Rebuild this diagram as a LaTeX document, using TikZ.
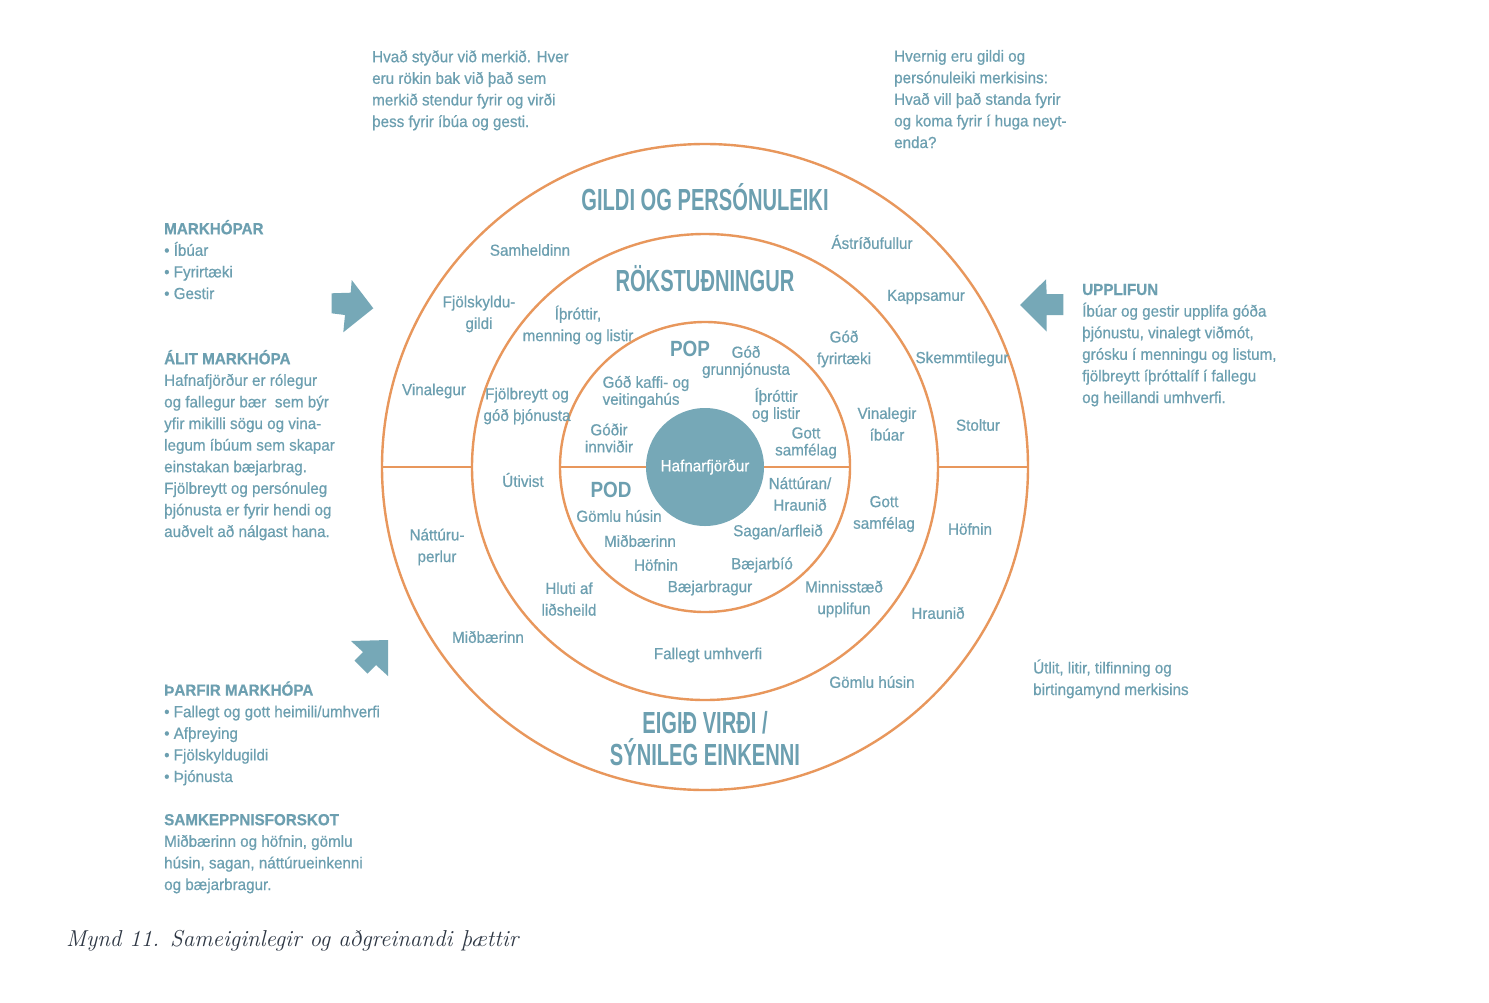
\documentclass[tikz,border=0pt]{standalone}
\usepackage{fontspec}
\newfontfamily\bodyf[FakeStretch=0.95,FakeBold=0.6]{Liberation Sans}
\newfontfamily\headf[FakeStretch=0.66]{Liberation Sans}
\newfontfamily\popf[FakeStretch=0.86]{Liberation Sans}
\definecolor{tealtx}{HTML}{6C9FB0}
\definecolor{tealfill}{HTML}{76A8B7}
\definecolor{orng}{HTML}{E8975C}
\definecolor{capc}{HTML}{2E3744}
\begin{document}
\begin{tikzpicture}[x=1pt,y=-1pt,
  txt/.style={text=tealtx, font=\bodyf\fontsize{16}{21.6}\selectfont, inner sep=0, align=center},
  tight/.style={font=\bodyf\fontsize{16}{17}\selectfont},
  blk/.style={txt, align=left, anchor=base west},
  hdg/.style={text=tealtx, font=\headf\bfseries\fontsize{30.5}{32}\selectfont, inner sep=0, align=center},
  pp/.style={text=tealtx, font=\popf\bfseries\fontsize{22}{24}\selectfont, inner sep=0},
  ring/.style={circle, draw=orng, line width=2.4pt, inner sep=0, outer sep=0},
  sepline/.style={draw=orng, line width=2.4pt},
  arr/.style={fill=tealfill, draw=none}
]
\useasboundingbox[fill=white] (0,0) rectangle (1489,1002);

% rings
\node[ring, minimum size=646] (outer) at (705,467) {};
\node[ring, minimum size=466] (mid) at (705,467) {};
\node[ring, minimum size=290] (inner) at (705,467) {};
\node[circle, fill=tealfill, inner sep=0, outer sep=0, minimum size=118,
      text=white, font=\bodyf\fontsize{16}{18}\selectfont] (core) at (705,467) {Hafnarfjörður};

\draw[sepline] (outer.west) -- (mid.west);
\draw[sepline] (inner.west) -- (core.west);
\draw[sepline] (core.east) -- (inner.east);
\draw[sepline] (mid.east) -- (outer.east);

% arrows
\fill[arr] (331.7,293.3) -- (350.7,292.7) -- (351.7,280) -- (373.3,308.3) -- (343.3,332.3) -- (345,315) -- (331.7,313.3) -- cycle;
\fill[arr] (1020,305) -- (1046,279.3) -- (1046.7,294) -- (1063.3,294) -- (1063.3,315) -- (1046.7,315) -- (1046.7,331.7) -- cycle;
\fill[arr] (351,641) -- (388,640) -- (388,676) -- (376,665) -- (367.5,673.5) -- (354.5,660.5) -- (363,652) -- cycle;

% side text blocks (base anchor = baseline of last line)
\node[blk] (tl) at (372,127) {Hvað styður við merkið. Hver\\eru rökin bak við það sem\\merkið stendur fyrir og virði\\þess fyrir íbúa og gesti.};
\node[blk] (tr) at (894,148) {Hvernig eru gildi og\\persónuleiki merkisins:\\Hvað vill það standa fyrir\\og koma fyrir í huga neyt-\\enda?};
\node[blk] (l1) at (164,299) {\textbf{MARKHÓPAR}\\• Íbúar\\• Fyrirtæki\\• Gestir};
\node[blk] (l2) at (164,537) {\textbf{ÁLIT MARKHÓPA}\\Hafnafjörður er rólegur\\og fallegur bær\ \ sem býr\\yfir mikilli sögu og vina-\\legum íbúum sem skapar\\einstakan bæjarbrag.\\Fjölbreytt og persónuleg\\þjónusta er fyrir hendi og\\auðvelt að nálgast hana.};
\node[blk] (l3) at (164,782) {\textbf{ÞARFIR MARKHÓPA}\\• Fallegt og gott heimili/umhverfi\\• Afþreying\\• Fjölskyldugildi\\• Þjónusta};
\node[blk] (l4) at (164,890) {\textbf{SAMKEPPNISFORSKOT}\\Miðbærinn og höfnin, gömlu\\húsin, sagan, náttúrueinkenni\\og bæjarbragur.};
\node[blk] (r1) at (1082,403) {\textbf{UPPLIFUN}\\Íbúar og gestir upplifa góða\\þjónustu, vinalegt viðmót,\\grósku í menningu og listum,\\fjölbreytt íþróttalíf í fallegu\\og heillandi umhverfi.};
\node[blk] (r2) at (1033,695) {Útlit, litir, tilfinning og\\birtingamynd merkisins};

% outer ring
\node[hdg] (h1) at (705,197) {GILDI OG PERSÓNULEIKI};
\node[txt] (o1) at (530,250) {Samheldinn};
\node[txt] (o2) at (872,242) {Ástríðufullur};
\node[txt] (o3) at (479,314) {Fjölskyldu-\\gildi};
\node[txt] (o4) at (926,297) {Kappsamur};
\node[txt] (o5) at (434,391) {Vinalegur};
\node[txt] (o6) at (962,359) {Skemmtilegur};
\node[txt] (o7) at (978,425) {Stoltur};
\node[txt] (o8) at (970,529) {Höfnin};
\node[txt] (o9) at (437,547) {Náttúru-\\perlur};
\node[txt] (o10) at (938,613) {Hraunið};
\node[txt] (o11) at (488,637) {Miðbærinn};
\node[txt] (o12) at (872,682) {Gömlu húsin};
\node[hdg] (h4) at (705,739) {EIGIÐ VIRÐI /\\SÝNILEG EINKENNI};

% middle ring
\node[hdg] (h2) at (705,279) {RÖKSTUÐNINGUR};
\node[txt] (m1) at (578,325) {Íþróttir,\\menning og listir};
\node[txt] (m2) at (844,349) {Góð\\fyrirtæki};
\node[txt] (m3) at (527,406) {Fjölbreytt og\\góð þjónusta};
\node[txt] (m4) at (887,424) {Vinalegir\\íbúar};
\node[txt] (m5) at (523,480) {Útivist};
\node[txt] (m6) at (884,514) {Gott\\samfélag};
\node[txt] (m7) at (569,599) {Hluti af\\liðsheild};
\node[txt] (m8) at (844,599) {Minnisstæð\\upplifun};
\node[txt] (m9) at (708,655) {Fallegt umhverfi};

% inner ring
\node[pp] (pop) at (690,349) {POP};
\node[txt, tight] (i1) at (746,362) {Góð\\grunnjónusta};
\node[txt, tight, align=left] (i2) at (646,392) {Góð kaffi- og\\veitingahús};
\node[txt, tight] (i3) at (776,405) {Íþróttir\\og listir};
\node[txt, tight] (i4) at (609,438) {Góðir\\innviðir};
\node[txt, tight] (i5) at (806,443) {Gott\\samfélag};
\node[pp] (pod) at (611,490) {POD};
\node[txt] (i6) at (800,494) {Náttúran/\\Hraunið};
\node[txt] (i7) at (619,516) {Gömlu húsin};
\node[txt] (i8) at (778,532) {Sagan/arfleið};
\node[txt] (i9) at (640,541) {Miðbærinn};
\node[txt] (i10) at (656,565) {Höfnin};
\node[txt] (i11) at (762,565) {Bæjarbíó};
\node[txt] (i12) at (710,588) {Bæjarbragur};

% caption
\node[anchor=base west, inner sep=0, text=capc, font=\itshape\fontsize{23}{25}\selectfont] (cap) at (66,946) {Mynd 11. Sameiginlegir og aðgreinandi þættir};
\end{tikzpicture}
\end{document}
